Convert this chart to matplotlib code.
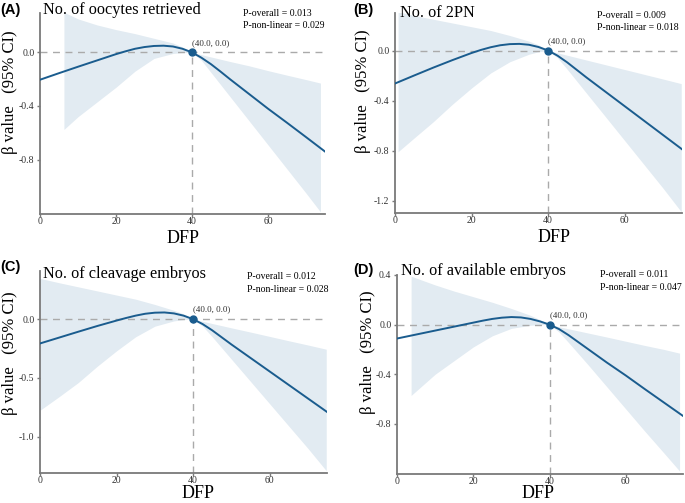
import numpy as np
import matplotlib
matplotlib.use("Agg")
import matplotlib.pyplot as plt

plt.rcParams['font.family'] = ['Liberation Serif', 'DejaVu Serif']
plt.rcParams['axes.unicode_minus'] = False

W, H = 685, 503

# ---- data ----
dfp = [0, 5, 10, 15, 20, 22.5, 25, 27.5, 30, 32.5, 35, 37.5, 40,
       42.5, 45, 47.5, 50, 55, 60, 65, 70, 75]

beta_a = [-0.204, -0.155, -0.107, -0.06, -0.013, 0.008, 0.027, 0.04, 0.048, 0.05, 0.044, 0.027, 0.0,
          -0.04, -0.088, -0.143, -0.2, -0.31, -0.42, -0.525, -0.632, -0.74]
beta_b = [-0.264, -0.20, -0.137, -0.077, -0.02, 0.005, 0.026, 0.042, 0.051, 0.053, 0.046, 0.028, 0.0,
          -0.042, -0.095, -0.155, -0.215, -0.33, -0.445, -0.56, -0.675, -0.79]
beta_c = [-0.207, -0.157, -0.107, -0.058, -0.012, 0.01, 0.03, 0.046, 0.055, 0.057, 0.049, 0.03, 0.0,
          -0.042, -0.095, -0.155, -0.215, -0.33, -0.445, -0.56, -0.675, -0.79]
beta_d = [-0.112, -0.08, -0.048, -0.016, 0.016, 0.032, 0.046, 0.056, 0.061, 0.058, 0.046, 0.026, 0.0,
          -0.036, -0.085, -0.14, -0.195, -0.305, -0.41, -0.52, -0.628, -0.736]

ci_x_a = [6.3, 10, 15, 20, 25, 30, 35, 37.5, 40, 42.5, 45, 50, 55, 60, 65, 70, 73.8]
ci_hi_a = [0.30, 0.25, 0.205, 0.17, 0.14, 0.105, 0.07, 0.04, 0.0,
           -0.017, -0.034, -0.068, -0.10, -0.136, -0.17, -0.203, -0.229]
ci_lo_a = [-0.575, -0.48, -0.37, -0.26, -0.14, -0.045, -0.008, -0.002, 0.0,
           -0.06, -0.15, -0.33, -0.51, -0.69, -0.87, -1.05, -1.19]

ci_x_b = [0.8, 5, 10, 15, 20, 25, 30, 35, 37.5, 40, 42.5, 45, 50, 55, 60, 65, 70, 74.8]
ci_hi_b = [0.31, 0.28, 0.25, 0.22, 0.19, 0.16, 0.12, 0.075, 0.045, 0.0,
           -0.019, -0.038, -0.076, -0.114, -0.152, -0.19, -0.228, -0.265]
ci_lo_b = [-0.81, -0.70, -0.57, -0.43, -0.30, -0.18, -0.09, -0.03, -0.01, 0.0,
           -0.06, -0.15, -0.34, -0.53, -0.72, -0.91, -1.10, -1.29]

ci_x_c = [0, 5, 10, 15, 20, 25, 30, 35, 37.5, 40, 42.5, 45, 50, 55, 60, 65, 70, 74.8]
ci_hi_c = [0.347, 0.31, 0.275, 0.24, 0.205, 0.17, 0.125, 0.075, 0.045, 0.0,
           -0.018, -0.037, -0.074, -0.11, -0.147, -0.184, -0.22, -0.256]
ci_lo_c = [-0.776, -0.66, -0.54, -0.40, -0.27, -0.15, -0.06, -0.015, -0.004, 0.0,
           -0.06, -0.15, -0.34, -0.53, -0.72, -0.91, -1.10, -1.29]

ci_x_d = [3.7, 10, 15, 20, 25, 30, 35, 37.5, 40, 42.5, 45, 50, 55, 60, 65, 70, 74.1]
ci_hi_d = [0.39, 0.32, 0.27, 0.225, 0.18, 0.13, 0.075, 0.04, 0.0,
           -0.017, -0.034, -0.067, -0.10, -0.134, -0.168, -0.20, -0.23]
ci_lo_d = [-0.571, -0.40, -0.29, -0.18, -0.09, -0.03, -0.005, 0.0, 0.0,
           -0.06, -0.145, -0.32, -0.50, -0.68, -0.86, -1.035, -1.18]

titles = ['No. of oocytes retrieved', 'No. of 2PN', 'No. of cleavage embryos', 'No. of available embryos']
letters = ['(A)', '(B)', '(C)', '(D)']
p_overall = ['0.013', '0.009', '0.012', '0.011']
p_nonlin = ['0.029', '0.018', '0.028', '0.047']
ylims = [(-1.206, 0.294), (-1.30, 0.30), (-1.31, 0.41), (-1.20, 0.40)]
yticks = [[-0.8, -0.4, 0.0], [-1.2, -0.8, -0.4, 0.0], [-1.0, -0.5, 0.0], [-0.8, -0.4, 0.0, 0.4]]
xticks = [0, 20, 40, 60]
ref_x, ref_y = 40.0, 0.0

panels = [
    (beta_a, ci_x_a, ci_lo_a, ci_hi_a),
    (beta_b, ci_x_b, ci_lo_b, ci_hi_b),
    (beta_c, ci_x_c, ci_lo_c, ci_hi_c),
    (beta_d, ci_x_d, ci_lo_d, ci_hi_d),
]

# layout, in pixels (left, top, right, bottom)
boxes = [(40, 13, 325, 214), (395, 13, 682, 213), (40, 271, 327, 473), (397, 275, 683, 473.5)]
letter_pos = [(0, 10), (353, 10), (0, 267), (353, 270)]
title_pos = [(43, 10), (400, 13), (43, 274), (401, 271)]
p_pos = [(243, 9), (597, 11), (247, 272), (600, 270)]
ylab_pos = [(10, 92), (363, 91), (10, 353), (368, 352)]
xlab_pos = [(183, 243), (554, 242), (198, 498.5), (538, 498.5)]   # baselines

line_col = '#1a5c8e'
band_col = '#e2ebf2'
spine_col = '#7a7a7a'


def fx(x):
    return x / W


def fy(y):
    return 1 - y / H


fig = plt.figure(figsize=(W / 100, H / 100), dpi=100)

for i in range(4):
    beta, cx, lo, hi = panels[i]
    l, t, r, b = boxes[i]
    ax = fig.add_axes([fx(l), fy(b), (r - l) / W, (b - t) / H])
    ax.fill_between(cx, lo, hi, color=band_col, lw=0, zorder=1)
    ax.axhline(0, color='#aaaaaa', ls=(0, (5, 4)), lw=1, zorder=2)
    ax.plot([ref_x, ref_x], [ylims[i][0], ref_y], color='#aaaaaa', ls=(0, (5, 4)), lw=1, zorder=2)
    ax.plot(dfp, beta, color=line_col, lw=1.4, zorder=3)
    ax.plot(ref_x, ref_y, 'o', color=line_col, ms=5, zorder=4)
    ax.annotate('(40.0, 0.0)', (ref_x, ref_y), xytext=(0, 4), textcoords='offset points',
                fontsize=6.5, ha='left', va='bottom', color='#333333')
    ax.set_xlim(0, 75)
    ax.set_ylim(*ylims[i])
    ax.set_xticks(xticks)
    ax.set_yticks(yticks[i])
    ax.set_yticklabels(['%.1f' % v for v in yticks[i]])
    ax.tick_params(labelsize=7, colors=spine_col, labelcolor='#333333', length=2, width=1, pad=2)
    ax.tick_params(axis='x', pad=0.5)
    for s in ['top', 'right']:
        ax.spines[s].set_visible(False)
    for s in ['left', 'bottom']:
        ax.spines[s].set_color(spine_col)
        ax.spines[s].set_linewidth(1.3)

    fig.text(fx(letter_pos[i][0]), fy(letter_pos[i][1]), letters[i], fontsize=10.5,
             fontweight='bold', family='Liberation Sans', ha='left', va='center')
    fig.text(fx(title_pos[i][0]), fy(title_pos[i][1]), titles[i], fontsize=11.7,
             ha='left', va='center')
    fig.text(fx(p_pos[i][0]), fy(p_pos[i][1]),
             'P-overall = %s\nP-non-linear = %s' % (p_overall[i], p_nonlin[i]),
             fontsize=7, ha='left', va='top', linespacing=1.5)
    fig.text(fx(ylab_pos[i][0]), fy(ylab_pos[i][1]), 'β value   (95% CI)', fontsize=12,
             rotation=90, ha='center', va='center')
    fig.text(fx(xlab_pos[i][0]), fy(xlab_pos[i][1]), 'DFP', fontsize=13,
             ha='center', va='baseline')

fig.savefig('out.png', dpi=100)
